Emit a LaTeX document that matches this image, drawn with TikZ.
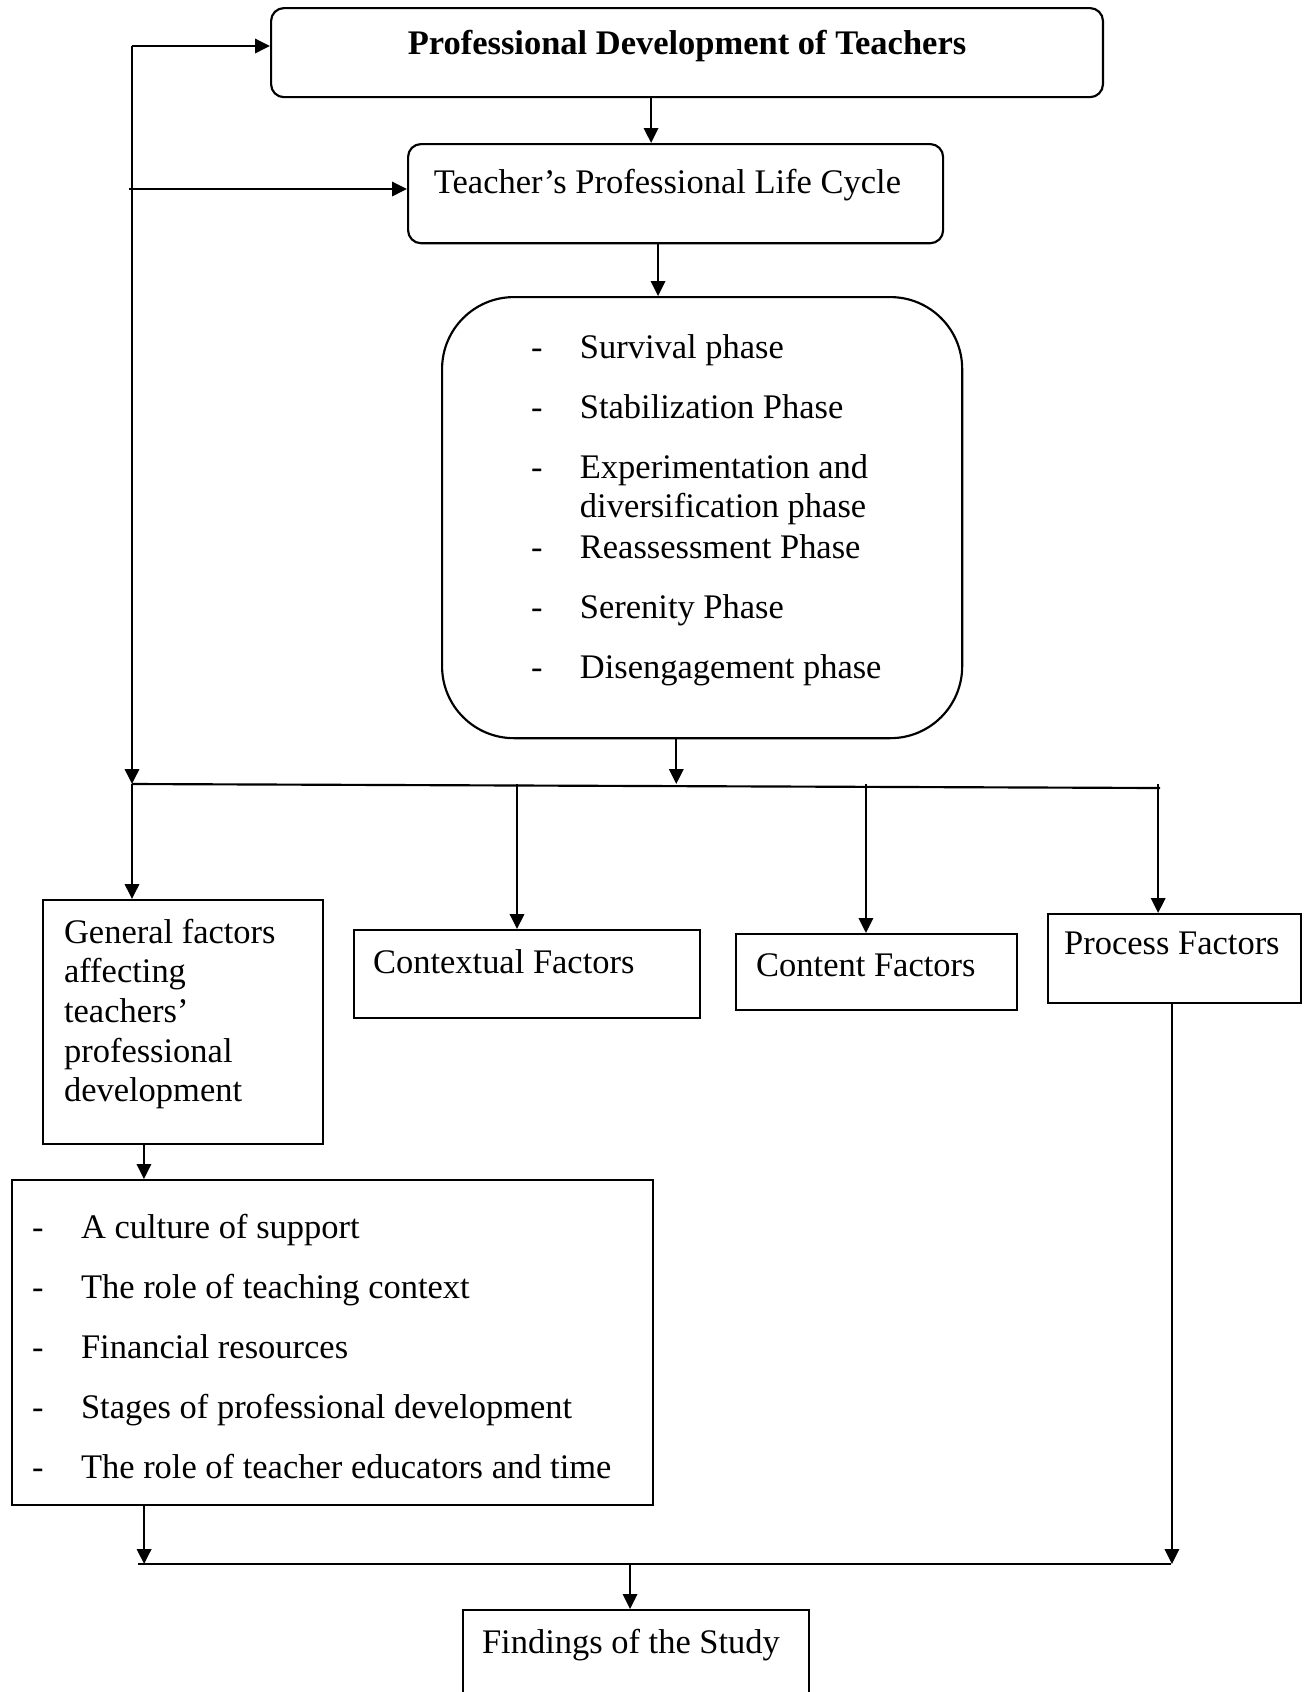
\documentclass[tikz,border=0pt]{standalone}
\usepackage{fontspec}
\setmainfont{Liberation Serif}
\usepackage{tikz}
\usetikzlibrary{arrows.meta}

\newcommand{\dashitem}{\makebox[17pt][l]{-}}

\begin{document}
\begin{tikzpicture}[x=0.348pt, y=-0.348pt, line width=0.75pt,
    every node/.style={font=\fontsize{12}{13.8}\selectfont},
    box/.style={draw, rectangle, anchor=north west, inner ysep=0pt, align=flush left},
    arr/.style={-{Triangle[length=5.2pt,width=5pt]}}]
    \useasboundingbox (0,0) rectangle (1307,1692);

    % Top boxes
    \node[box, rounded corners=4.5pt, align=flush center, inner xsep=10pt, text width=269.5pt, text height=16pt, text depth=15pt] (prof) at (270,7) {\textbf{Professional Development of Teachers}};
    \node[box, rounded corners=4.5pt, inner xsep=9pt, text width=168.2pt, text height=17.1pt, text depth=17.4pt] (cycle) at (407,143) {Teacher's Professional Life Cycle};

    % Phases of the life cycle
    \node[draw, rounded corners=25pt, anchor=north west, inner sep=0pt, minimum width=181pt, minimum height=153.5pt] (phases) at (441,296) {};
    \node[anchor=base west, inner sep=0pt] (phaselist) at (530,358) {\begin{tabular}[t]{@{}l@{}}
        \dashitem Survival phase\\[7.1pt]
        \dashitem Stabilization Phase\\[7.1pt]
        \dashitem Experimentation and\\
        \hspace*{17pt}diversification phase\\[0.5pt]
        \dashitem Reassessment Phase\\[7.1pt]
        \dashitem Serenity Phase\\[7.1pt]
        \dashitem Disengagement phase
    \end{tabular}};

    % Factors
    \node[box, inner xsep=7.3pt, text width=82.8pt, text height=15pt, text depth=69.9pt] (gen) at (42,899) {\begin{tabular}[t]{@{}l@{}}General factors\\ affecting\\ teachers'\\ professional\\ development\end{tabular}};
    \node[box, inner xsep=6.6pt, text width=107.2pt, text height=15pt, text depth=15.7pt] (ctx) at (353,929) {Contextual Factors};
    \node[box, inner xsep=7pt, text width=83.8pt, text height=14.6pt, text depth=11.8pt] (cont) at (735,933) {Content Factors};
    \node[box, inner xsep=5.6pt, text width=76.8pt, text height=13.9pt, text depth=17.1pt] (proc) at (1047,913) {Process Factors};

    % General factors in detail
    \node[box, inner xsep=7pt, text width=209.1pt, text height=20.2pt, text depth=92.9pt] (facts) at (11,1179) {\begin{tabular}[t]{@{}l@{}}
        \dashitem A culture of support\\[7.1pt]
        \dashitem The role of teaching context\\[7.1pt]
        \dashitem Financial resources\\[7.1pt]
        \dashitem Stages of professional development\\[7.1pt]
        \dashitem The role of teacher educators and time
    \end{tabular}};

    % Findings
    \node[box, inner xsep=6.6pt, text width=107.2pt, text height=15pt, text depth=23.7pt] (find) at (462,1609) {Findings of the Study};

    % Junctions
    \coordinate (ltop) at (132,46);
    \coordinate (lcyc) at (129,189);
    \coordinate (jL) at (132,784);
    \coordinate (jR) at (1160,788);
    \coordinate (bL) at (138,1564);
    \coordinate (bR) at (1171,1564);

    % Arrows
    \draw[arr] (ltop) -- (jL);
    \draw[arr] (ltop) -- (prof.west |- ltop);
    \draw[arr] (lcyc) -- (cycle.west |- lcyc);
    \draw[arr] ([xshift=-12.5pt]prof.south) -- ([xshift=-12.5pt]prof.south |- cycle.north);
    \draw[arr] ([xshift=-6.1pt]cycle.south) -- ([xshift=-6.1pt]cycle.south |- phases.north);
    \draw[arr] ([xshift=-9pt]phases.south) -- ([xshift=-9pt]phases.south |- jL);
    \draw (jL) -- (jR);
    \draw[arr] (jL) -- (jL |- gen.north);
    \draw[arr] ([xshift=-3.5pt]ctx.north |- jL) -- ([xshift=-3.5pt]ctx.north);
    \draw[arr] ([xshift=-3.7pt]cont.north |- jL) -- ([xshift=-3.7pt]cont.north);
    \draw[arr] ([xshift=-5.7pt]proc.north |- jL) -- ([xshift=-5.7pt]proc.north);
    \draw[arr] ([xshift=-13.6pt]gen.south) -- ([xshift=-13.6pt]gen.south |- facts.north);
    \draw[arr] ([xshift=-65.6pt]facts.south) -- ([xshift=-65.6pt]facts.south |- bL);
    \draw[arr] ([xshift=-0.9pt]proc.south) -- ([xshift=-0.9pt]proc.south |- bR);
    \draw (bL) -- (bR);
    \draw[arr] ([xshift=-2.1pt]find.north |- bL) -- ([xshift=-2.1pt]find.north);
\end{tikzpicture}
\end{document}
